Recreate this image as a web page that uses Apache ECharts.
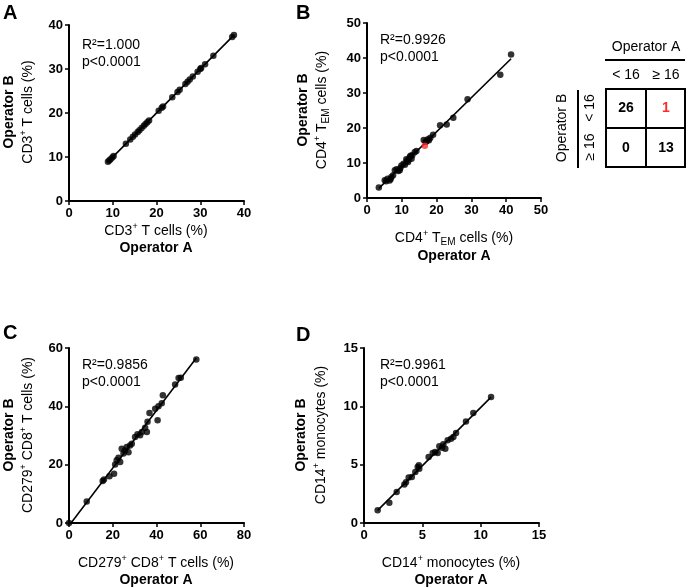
<!DOCTYPE html>
<html><head><meta charset="utf-8">
<script src="https://cdn.jsdelivr.net/npm/echarts@6/dist/echarts.min.js"></script>
<style>html,body{margin:0;padding:0;background:#fff}#c{width:687px;height:587px}</style>
</head><body><div id="c"></div>
<script>
// ---------- DATA ----------
const panelA_x = [8.9, 9.2, 9.5, 9.9, 10.2, 13.0, 14.0, 14.6, 15.1, 15.7, 16.1, 16.6, 17.1, 17.5, 17.9, 18.3, 20.5, 21.2, 21.5, 23.6, 24.8, 25.3, 26.6, 27.1, 27.6, 28.3, 29.4, 30.0, 30.2, 31.1, 33.0, 37.3, 37.7];
const panelA_y = [8.9, 9.2, 9.5, 9.9, 10.2, 13.0, 14.0, 14.6, 15.1, 15.7, 16.1, 16.6, 17.1, 17.5, 17.9, 18.3, 20.5, 21.2, 21.5, 23.6, 24.8, 25.3, 26.6, 27.1, 27.6, 28.3, 29.4, 30.0, 30.2, 31.1, 33.0, 37.3, 37.7];

const panelB_x = [3.4, 5.1, 5.5, 5.9, 6.5, 6.8, 7.0, 7.5, 8.0, 8.5, 9.0, 9.4, 9.6, 9.9, 10.5, 10.9, 11.3, 11.5, 11.8, 12.0, 12.3, 12.5, 12.8, 13.0, 13.7, 14.2,
                   16.3, 16.9, 17.1, 17.5, 17.8, 18.2, 19.0, 21.0, 22.9, 24.8, 28.9, 38.3, 41.4];
const panelB_y = [3.0, 5.1, 4.8, 5.5, 5.0, 5.4, 6.0, 6.5, 7.9, 8.2, 7.7, 7.9, 8.6, 9.3, 9.8, 9.5, 11.1, 10.6, 10.3, 11.0, 11.7, 12.1, 11.2, 12.2, 13.1, 13.4,
                   16.6, 16.1, 16.2, 16.8, 16.5, 17.2, 18.1, 20.8, 21.0, 22.9, 28.2, 35.2, 41.0];
const panelB_red_x = [16.6];
const panelB_red_y = [14.9];

const panelC_x = [0, 8.1, 15.4, 16.0, 18.5, 20.6, 21.1, 21.8, 22.6, 23.4, 24.1, 24.9, 25.6, 26.4, 27.2, 27.9, 28.7, 30.2, 31.3, 32.5, 33.3, 34.8, 35.6, 35.9, 36.8, 39.4, 40.5, 40.9, 42.4, 42.9, 48.5, 50.1, 51.1, 58.2];
const panelC_y = [0, 7.4, 14.4, 14.9, 16.0, 16.9, 20.1, 21.5, 22.4, 20.9, 25.5, 23.8, 24.9, 26.1, 24.3, 26.6, 27.2, 29.5, 30.4, 30.1, 31.2, 32.7, 31.2, 34.7, 37.7, 39.2, 35.2, 40.0, 41.1, 43.8, 47.5, 49.7, 49.8, 56.1];

const panelD_x = [1.17, 2.17, 2.8, 3.46, 3.6, 3.83, 4.1, 4.4, 4.6, 4.74, 4.7, 5.54, 5.89, 6.1, 6.31, 6.46, 6.69, 6.8, 6.97, 7.17, 7.46, 7.66, 7.89, 8.74, 9.37, 10.89];
const panelD_y = [1.09, 1.74, 2.66, 3.31, 3.5, 3.89, 3.94, 4.37, 4.8, 4.66, 4.94, 5.66, 6.0, 6.09, 6.0, 6.57, 6.46, 6.74, 6.37, 7.09, 7.23, 7.37, 7.71, 8.71, 9.43, 10.8];

const statsR2 = ['1.000', '0.9926', '0.9856', '0.9961'];
const statsP = ['p<0.0001', 'p<0.0001', 'p<0.0001', 'p<0.0001'];

const xMax = [40, 50, 80, 15];
const yMax = [40, 50, 60, 15];
const xStep = [10, 10, 20, 5];
const yStep = [10, 10, 20, 5];

const tableColLabels = ['< 16', '\u2265 16'];
const tableRowLabels = ['< 16', '\u2265 16'];
const tableCounts = [[26, 1], [0, 13]];

// ---------- BUILD ----------
const FONT = '"Liberation Sans", Arial, sans-serif';
function zip(xs, ys) { return xs.map((x, i) => [x, ys[i]]); }
function fit(xs, ys) {
  const n = xs.length;
  const mx = xs.reduce((a, b) => a + b, 0) / n, my = ys.reduce((a, b) => a + b, 0) / n;
  let sxy = 0, sxx = 0;
  for (let i = 0; i < n; i++) { sxy += (xs[i] - mx) * (ys[i] - my); sxx += (xs[i] - mx) ** 2; }
  const b = sxy / sxx, a = my - b * mx;
  const lo = Math.min(...xs), hi = Math.max(...xs);
  return [[lo, a + b * lo], [hi, a + b * hi]];
}

const grids = [
  { left: 69, top: 25, width: 175, height: 176 },
  { left: 367, top: 23, width: 174, height: 175 },
  { left: 69, top: 348, width: 175, height: 175 },
  { left: 364, top: 348, width: 175, height: 175 }
];

function axis(i, max, step) {
  return {
    gridIndex: i, type: 'value', min: 0, max: max, interval: step,
    axisLine: { show: true, onZero: false, lineStyle: { color: '#000', width: 2 } },
    axisTick: { show: true, length: 4, lineStyle: { color: '#000', width: 1.5 } },
    axisLabel: { color: '#000', fontWeight: 'bold', fontSize: 13, fontFamily: FONT, margin: 6 },
    splitLine: { show: false }
  };
}

const allX = [panelA_x, panelB_x.concat(panelB_red_x), panelC_x, panelD_x];
const allY = [panelA_y, panelB_y.concat(panelB_red_y), panelC_y, panelD_y];
const pts = [zip(panelA_x, panelA_y), zip(panelB_x, panelB_y), zip(panelC_x, panelC_y), zip(panelD_x, panelD_y)];

const series = [];
for (let i = 0; i < 4; i++) {
  series.push({ type: 'line', xAxisIndex: i, yAxisIndex: i, data: fit(allX[i], allY[i]), showSymbol: false, symbol: 'none',
    lineStyle: { color: '#000', width: 1.6 }, silent: true, z: 1 });
  series.push({ type: 'scatter', xAxisIndex: i, yAxisIndex: i, data: pts[i], symbolSize: 6.5,
    itemStyle: { color: '#000' }, z: 2 });
}
series.push({ type: 'scatter', xAxisIndex: 1, yAxisIndex: 1, data: zip(panelB_red_x, panelB_red_y), symbolSize: 6.5,
  itemStyle: { color: '#ff2a2a' }, z: 3 });

const rich = {
  n: { fontSize: 14, fontFamily: FONT, color: '#000', lineHeight: 18 },
  b: { fontSize: 14, fontFamily: FONT, color: '#000', fontWeight: 'bold', lineHeight: 18 },
  s: { fontSize: 9, fontFamily: FONT, color: '#000', lineHeight: 9, verticalAlign: 'top' },
  u: { fontSize: 10, fontFamily: FONT, color: '#000', lineHeight: 10, verticalAlign: 'bottom' }
};
function txt(x, y, text, rot, extra) {
  return Object.assign({ type: 'text', x: x, y: y, rotation: rot ? Math.PI / 2 : 0,
    style: { text: text, rich: rich, align: 'center', verticalAlign: 'middle', font: '14px ' + FONT, fill: '#000' } }, extra || {});
}
function letter(x, y, t) {
  return { type: 'text', x: x, y: y, style: { text: t, font: 'bold 20px ' + FONT, fill: '#000', align: 'left', verticalAlign: 'top' } };
}
function stat(x, y, i) {
  return { type: 'text', x: x, y: y, style: { text: 'R\u00b2=' + statsR2[i] + '\n' + statsP[i], font: '14px ' + FONT, lineHeight: 17, fill: '#000', align: 'left', verticalAlign: 'top' } };
}

const graphic = [
  letter(3, 3, 'A'), letter(296, 3, 'B'), letter(3, 323, 'C'), letter(296, 325, 'D'),
  // Panel A names
  txt(9, 112, '{b|Operator B}', true), txt(28, 112, '{n|CD3}{s|+}{n| T cells (%)}', true),
  txt(156, 231, '{n|CD3}{s|+}{n| T cells (%)}'), txt(156, 248, '{b|Operator A}'),
  // Panel B names
  txt(303, 110, '{b|Operator B}', true), txt(322, 110, '{n|CD4}{s|+}{n| T}{u|EM}{n| cells (%)}', true),
  txt(454, 238, '{n|CD4}{s|+}{n| T}{u|EM}{n| cells (%)}'), txt(454, 256, '{b|Operator A}'),
  // Panel C names
  txt(9, 435, '{b|Operator B}', true), txt(28, 435, '{n|CD279}{s|+}{n| CD8}{s|+}{n| T cells (%)}', true),
  txt(156, 563, '{n|CD279}{s|+}{n| CD8}{s|+}{n| T cells (%)}'), txt(156, 580, '{b|Operator A}'),
  // Panel D names
  txt(301, 435, '{b|Operator B}', true), txt(321, 435, '{n|CD14}{s|+}{n| monocytes (%)}', true),
  txt(451, 563, '{n|CD14}{s|+}{n| monocytes (%)}'), txt(451, 580, '{b|Operator A}'),
  // stats
  stat(82, 37, 0), stat(380, 32, 1), stat(82, 357, 2), stat(380, 357, 3),
  // table
  txt(646, 47, '{n|Operator A}'),
  { type: 'line', shape: { x1: 605, y1: 60, x2: 685, y2: 60 }, style: { stroke: '#000', lineWidth: 2 } },
  txt(626, 75, '{n|' + tableColLabels[0] + '}'), txt(666, 75, '{n|' + tableColLabels[1] + '}'),
  { type: 'rect', shape: { x: 606, y: 89, width: 79, height: 78 }, style: { fill: 'none', stroke: '#000', lineWidth: 2 } },
  { type: 'line', shape: { x1: 646, y1: 89, x2: 646, y2: 167 }, style: { stroke: '#000', lineWidth: 2 } },
  { type: 'line', shape: { x1: 606, y1: 128, x2: 685, y2: 128 }, style: { stroke: '#000', lineWidth: 2 } },
  { type: 'line', shape: { x1: 578, y1: 90, x2: 578, y2: 168 }, style: { stroke: '#000', lineWidth: 2 } },
  txt(562, 128, '{n|Operator B}', true),
  txt(590, 108, '{n|' + tableRowLabels[0] + '}', true), txt(590, 147, '{n|' + tableRowLabels[1] + '}', true)
];
for (let r = 0; r < 2; r++) for (let c = 0; c < 2; c++) {
  graphic.push({ type: 'text', x: c ? 666 : 626, y: r ? 148 : 108,
    style: { text: String(tableCounts[r][c]), font: 'bold 14px ' + FONT, fill: (r === 0 && c === 1) ? '#ff2a2a' : '#000', align: 'center', verticalAlign: 'middle' } });
}

const chart = echarts.init(document.getElementById('c'), null, { renderer: 'canvas' });
chart.setOption({
  animation: false,
  backgroundColor: '#fff',
  grid: grids,
  xAxis: [0, 1, 2, 3].map(i => axis(i, xMax[i], xStep[i])),
  yAxis: [0, 1, 2, 3].map(i => axis(i, yMax[i], yStep[i])),
  series: series,
  graphic: graphic
});
</script></body></html>
